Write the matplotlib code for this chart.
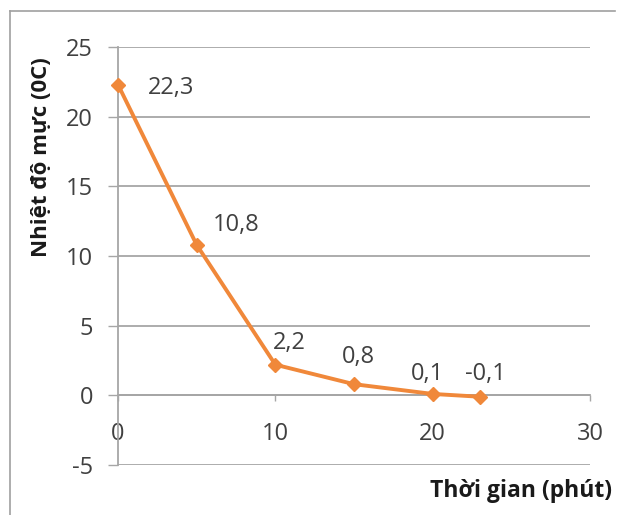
import matplotlib.pyplot as plt
from matplotlib.lines import Line2D

plt.rcParams['font.family'] = ['Open Sans', 'DejaVu Sans']
plt.rcParams['axes.unicode_minus'] = False

# thời gian (phút) và nhiệt độ mực (0C)
thoi_gian = [0, 5, 10, 15, 20, 23]
nhiet_do = [22.3, 10.8, 2.2, 0.8, 0.1, -0.1]
x_ticks = [0, 10, 20, 30]
y_ticks = [-5, 0, 5, 10, 15, 20, 25]

# vị trí nhãn giá trị so với điểm (pixel)
label_offsets = [(53, -3), (40, 20), (14, 22), (4, 27), (-5, 20), (6, 23)]

orange = '#F0883A'
grid_grey = '#A6A6A6'
text_grey = '#404040'

fig = plt.figure(figsize=(6.17, 5.15), dpi=100)
ax = fig.add_axes([118 / 617, 1 - 465 / 515, 472 / 617, 418 / 515])

ax.set_xlim(0, 30)
ax.set_ylim(-5, 25)
ax.set_xticks(x_ticks)
ax.set_yticks(y_ticks)

ax.yaxis.grid(True, color=grid_grey, linewidth=1.3)
ax.set_axisbelow(True)

for side in ['top', 'right']:
    ax.spines[side].set_visible(False)
ax.spines['left'].set_color(grid_grey)
ax.spines['left'].set_linewidth(1.3)
ax.spines['bottom'].set_position(('data', 0))
ax.spines['bottom'].set_color(grid_grey)
ax.spines['bottom'].set_linewidth(1.3)

ax.tick_params(axis='y', direction='out', length=7, width=1.0, color=grid_grey,
               pad=11, labelsize=17, labelcolor=text_grey)
ax.tick_params(axis='x', direction='out', length=4.5, width=1.0, color=grid_grey,
               pad=15, labelsize=17, labelcolor=text_grey)

ax.plot(thoi_gian, nhiet_do, color=orange, linewidth=2.8, marker='D',
        markersize=7.5, markerfacecolor=orange, markeredgecolor=orange,
        clip_on=False, zorder=3)

for x, y, off in zip(thoi_gian, nhiet_do, label_offsets):
    ax.annotate(str(y).replace('.', ','), (x, y), xytext=off,
                textcoords='offset pixels', ha='center', va='center',
                fontsize=17, color=text_grey)

fig.text(42 / 617, 1 - 157 / 515, 'Nhiệt độ mực (0C)', rotation=90,
         ha='center', va='center', fontsize=16, fontweight='bold',
         color='#1a1a1a')
fig.text(612 / 617, 1 - 491 / 515, 'Thời gian (phút)', ha='right',
         va='center', fontsize=16.5, fontweight='bold', color='#1a1a1a')

# khung viền của biểu đồ
fig.add_artist(Line2D([10.5 / 617, 10.5 / 617], [0, 1 - 10.5 / 515],
                      transform=fig.transFigure, color='#A0A0A0', linewidth=1.2))
fig.add_artist(Line2D([10.5 / 617, 615 / 617], [1 - 10.5 / 515, 1 - 10.5 / 515],
                      transform=fig.transFigure, color='#A0A0A0', linewidth=1.2))

fig.savefig('out.png', dpi=100)
